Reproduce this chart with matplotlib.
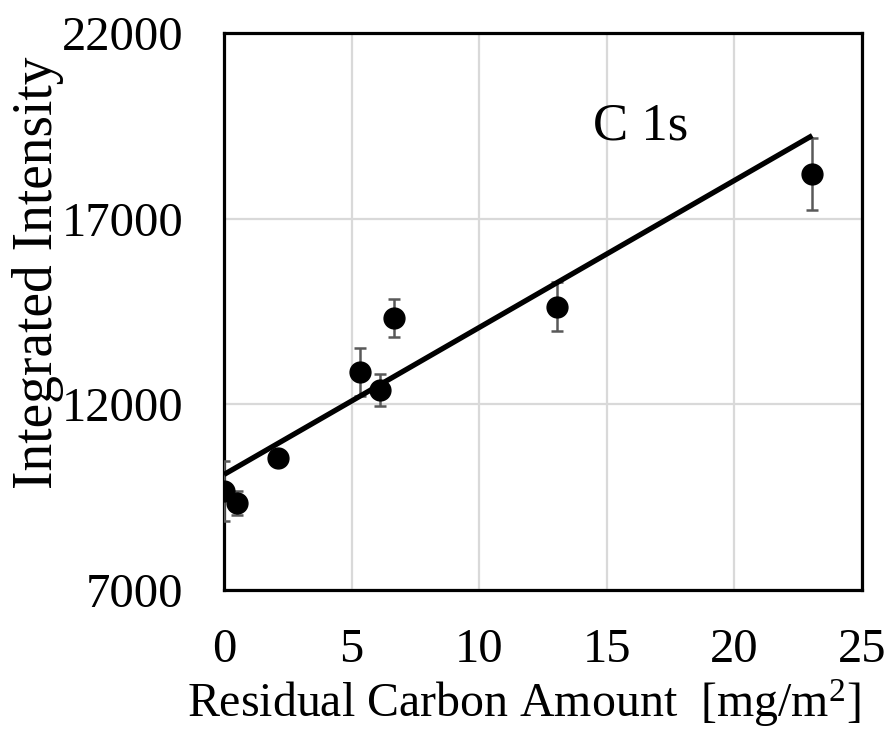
import matplotlib
matplotlib.use('Agg')
import matplotlib.pyplot as plt
import numpy as np

plt.rcParams['font.family'] = ['Liberation Serif', 'DejaVu Serif']
plt.rcParams['mathtext.fontset'] = 'custom'
plt.rcParams['mathtext.rm'] = 'Liberation Serif'
plt.rcParams['mathtext.it'] = 'Liberation Serif:italic'

# data
carbon = [0.0, 0.5, 2.1, 5.33, 6.1, 6.66, 13.05, 23.05]
intensity = [9666, 9343, 10555, 12870, 12386, 14325, 14622, 18204]
intensity_err = [810, 330, 120, 650, 430, 525, 660, 965]
# trendline (slope, intercept) as drawn in the reference
trend_slope = 396.0
trend_intercept = 10110.0

x_ticks = [0, 5, 10, 15, 20, 25]
y_ticks = [7000, 12000, 17000, 22000]

fig = plt.figure(figsize=(8.91, 7.40), dpi=100)
ax = fig.add_axes([0.2514, 0.2027, 0.7161, 0.7527])

ax.errorbar(carbon, intensity, yerr=intensity_err, fmt='none', ecolor='#595959',
            elinewidth=1.8, capsize=4.5, capthick=1.8, zorder=3)
ax.plot(carbon, intensity, 'o', color='black', markersize=15, zorder=4)

x_line = np.array([0, max(carbon)])
ax.plot(x_line, trend_slope * x_line + trend_intercept, color='black', linewidth=3.8,
        solid_capstyle='butt', zorder=5)

ax.set_xlim(0, 25)
ax.set_ylim(7000, 22000)
ax.set_xticks(x_ticks)
ax.set_yticks(y_ticks)
ax.grid(True, color='#d9d9d9', linewidth=1.6)
ax.set_axisbelow(True)
ax.tick_params(length=0, labelsize=35)
ax.tick_params(axis='x', pad=27)
ax.tick_params(axis='y', pad=29)
for s in ax.spines.values():
    s.set_linewidth(2.3)
    s.set_color('black')

ax.set_xlabel('Residual Carbon Amount  [mg/m$^2$]', fontsize=34.5)
ax.xaxis.set_label_coords(0.47, -0.157)
ax.set_ylabel('Integrated Intensity', fontsize=40)
ax.yaxis.set_label_coords(-0.251, 0.569)
ax.text(14.46, 19120, 'C 1s', fontsize=38, ha='left', va='baseline')

fig.savefig('out.png', dpi=100)
